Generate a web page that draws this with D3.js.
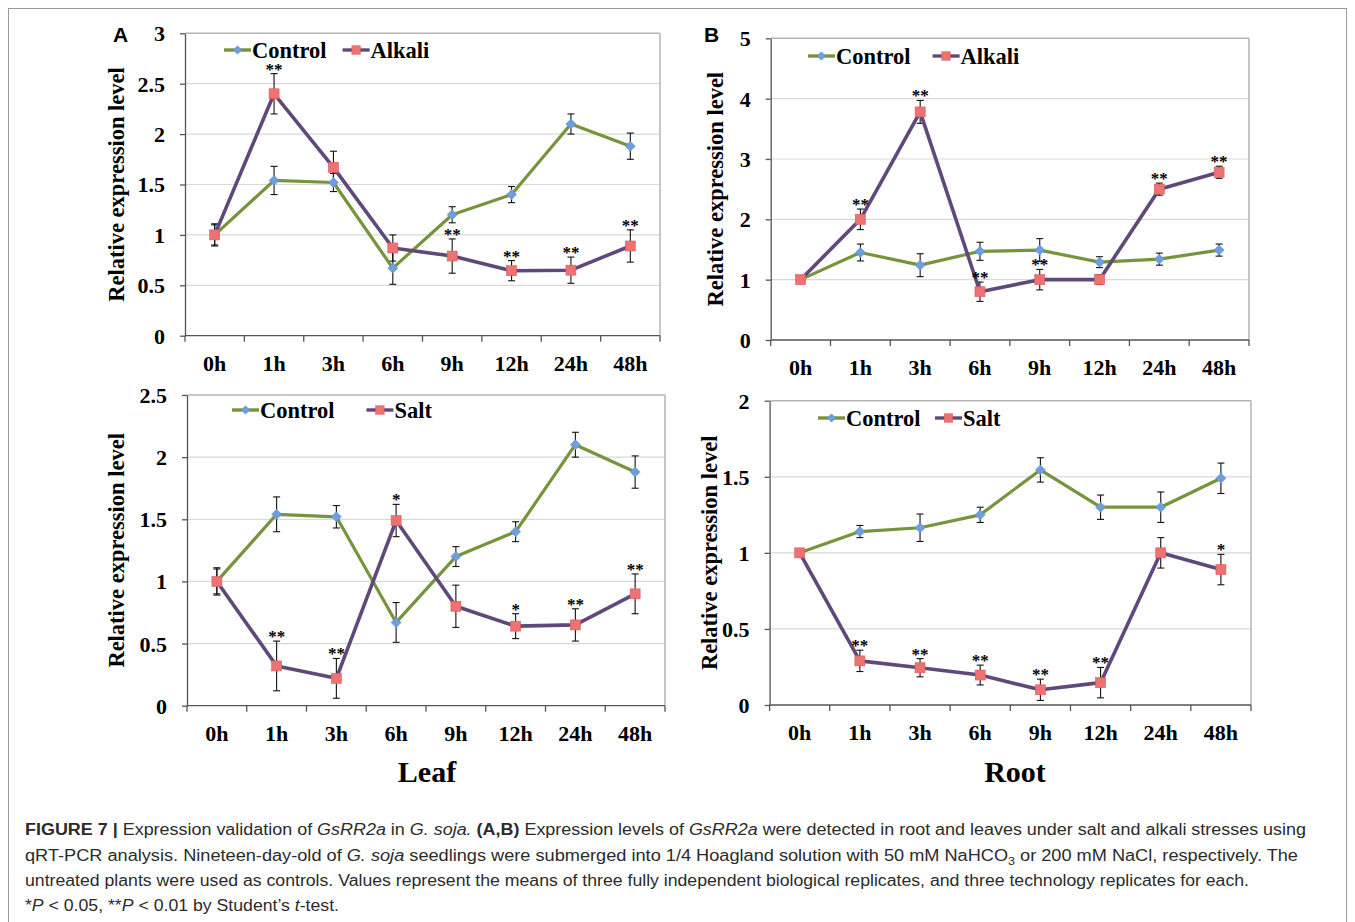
<!DOCTYPE html>
<html>
<head>
<meta charset="utf-8">
<script src="https://cdn.jsdelivr.net/npm/d3@7"></script>
<style>
  body { margin: 0; background: #fff; }
</style>
</head>
<body>
<div id="chart"></div>
<script>
// time points (x categories)
const hours = ["0h", "1h", "3h", "6h", "9h", "12h", "24h", "48h"];

// leaf - control (same controls used for alkali and salt)
const leafCtrl = [1.0, 1.54, 1.52, 0.67, 1.20, 1.40, 2.10, 1.88];
const leafCtrlErr = [0.11, 0.14, 0.09, 0.16, 0.08, 0.08, 0.10, 0.13];

// leaf - alkali (A)
const leafAlkali = [1.0, 2.40, 1.67, 0.87, 0.79, 0.645, 0.65, 0.89];
const leafAlkaliErr = [0.10, 0.20, 0.16, 0.13, 0.17, 0.10, 0.13, 0.16];
const leafAlkaliSig = ["", "**", "", "", "**", "**", "**", "**"];

// root - control / alkali (B)
const rootCtrlB = [1.0, 1.45, 1.24, 1.47, 1.49, 1.29, 1.34, 1.49];
const rootCtrlBErr = [0.04, 0.14, 0.19, 0.15, 0.19, 0.09, 0.10, 0.10];
const rootAlkali = [1.0, 2.0, 3.78, 0.80, 1.0, 1.0, 2.50, 2.78];
const rootAlkaliErr = [0.05, 0.17, 0.19, 0.16, 0.17, 0.08, 0.10, 0.10];
const rootAlkaliSig = ["", "**", "**", "**", "**", "", "**", "**"];

// leaf - salt (C)
const leafSalt = [1.0, 0.32, 0.22, 1.49, 0.80, 0.64, 0.65, 0.90];
const leafSaltErr = [0.10, 0.20, 0.16, 0.13, 0.17, 0.10, 0.13, 0.16];
const leafSaltSig = ["", "**", "**", "*", "", "*", "**", "**"];

// root - control / salt (D)
const rootCtrlD = [1.0, 1.14, 1.165, 1.25, 1.545, 1.30, 1.30, 1.49];
const rootCtrlDErr = [0.01, 0.04, 0.09, 0.05, 0.08, 0.08, 0.10, 0.10];
const rootSalt = [1.0, 0.29, 0.245, 0.197, 0.10, 0.147, 1.0, 0.89];
const rootSaltErr = [0.01, 0.07, 0.06, 0.065, 0.07, 0.10, 0.10, 0.10];
const rootSaltSig = ["", "**", "**", "**", "**", "**", "", "*"];

const W = 1355, H = 922;
const serif = '"Liberation Serif", "Times New Roman", serif';
const sans = '"Liberation Sans", Arial, sans-serif';
const green = '#77933c', purple = '#5f497a';
const blue = '#6e9fdc', red = '#ee7272';

const svg = d3.select('#chart').append('svg')
  .attr('width', W)
  .attr('height', H)
  .style('display', 'block');

// outer frame of the figure
svg.append('rect')
  .attr('x', 8.5).attr('y', 8.5)
  .attr('width', 1338).attr('height', 1000)
  .attr('fill', 'none')
  .attr('stroke', '#9a9a9a');

const panels = [
  { ctrl: leafCtrl, ctrlErr: leafCtrlErr, trt: leafAlkali, trtErr: leafAlkaliErr, sig: leafAlkaliSig,
    trtName: 'Alkali', ymax: 3, l: 185, r: 660, t: 33.3, b: 335.7,
    titleX: 117, legendY: 50, legendX: [224, 342.6], letter: 'A', letterX: 113 },
  { ctrl: rootCtrlB, ctrlErr: rootCtrlBErr, trt: rootAlkali, trtErr: rootAlkaliErr, sig: rootAlkaliSig,
    trtName: 'Alkali', ymax: 5, step: 1, l: 770.7, r: 1249, t: 38.3, b: 340,
    titleX: 716.5, legendY: 56, legendX: [808, 932.6], letter: 'B', letterX: 704 },
  { ctrl: leafCtrl, ctrlErr: leafCtrlErr, trt: leafSalt, trtErr: leafSaltErr, sig: leafSaltSig,
    trtName: 'Salt', ymax: 2.5, l: 187, r: 665, t: 395, b: 705.7,
    titleX: 117, legendY: 410, legendX: [232, 366.4], bottomTitle: 'Leaf', bottomX: 427 },
  { ctrl: rootCtrlD, ctrlErr: rootCtrlDErr, trt: rootSalt, trtErr: rootSaltErr, sig: rootSaltSig,
    trtName: 'Salt', ymax: 2, l: 769.6, r: 1251, t: 400.7, b: 705,
    titleX: 710.5, legendY: 418, legendX: [818, 935], bottomTitle: 'Root', bottomX: 1015 }
];

const diamond = 'M0,-5L5,0L0,5L-5,0Z';

function drawMarker(sel, kind) {
  if (kind === 'diamond') {
    sel.append('path').attr('d', diamond).attr('fill', blue).attr('stroke', '#5b8fd0').attr('stroke-width', 0.6);
  } else {
    sel.append('rect').attr('x', -5).attr('y', -5).attr('width', 10).attr('height', 10)
      .attr('fill', red).attr('stroke', '#d85d5d').attr('stroke-width', 0.6);
  }
}

function drawPanel(p) {
  const step = p.step || 0.5;
  const x = d3.scaleBand().domain(hours).range([p.l, p.r]);
  const y = d3.scaleLinear().domain([0, p.ymax]).range([p.b, p.t]);
  const ticks = d3.range(0, p.ymax + 1e-9, step);
  const bw = x.bandwidth();
  const cx = h => x(h) + bw / 2;
  const g = svg.append('g');

  // gridlines + top frame
  g.append('g').selectAll('line')
    .data(ticks.filter(d => d > 0))
    .join('line')
    .attr('x1', p.l).attr('x2', p.r)
    .attr('y1', d => y(d)).attr('y2', d => y(d))
    .attr('stroke', d => d === ticks[ticks.length - 1] ? '#b4b4b4' : '#d9d9d9')
    .attr('stroke-width', d => d === ticks[ticks.length - 1] ? 1.5 : 1.2);
  g.append('line')
    .attr('x1', p.r).attr('x2', p.r).attr('y1', p.t).attr('y2', p.b)
    .attr('stroke', '#b4b4b4').attr('stroke-width', 1.5);

  // y axis
  const yAxis = d3.axisLeft(y)
    .tickValues(ticks)
    .tickSize(5)
    .tickSizeOuter(0)
    .tickPadding(15)
    .tickFormat(d => String(+d.toFixed(1)));
  const ya = g.append('g').attr('transform', `translate(${p.l},0)`).call(yAxis);
  ya.select('.domain').attr('stroke', '#555').attr('stroke-width', 1.3);
  ya.selectAll('.tick line').attr('stroke', '#555').attr('stroke-width', 1.3);
  ya.selectAll('.tick text')
    .attr('font-family', serif).attr('font-weight', 'bold').attr('font-size', 22)
    .attr('fill', '#000').attr('dy', '0.34em');

  // x axis: line, ticks at band boundaries, labels at band centres
  g.append('line')
    .attr('x1', p.l).attr('x2', p.r).attr('y1', p.b).attr('y2', p.b)
    .attr('stroke', '#555').attr('stroke-width', 1.3);
  const bounds = hours.map(h => x(h)).concat([p.r]);
  g.append('g').selectAll('line')
    .data(bounds)
    .join('line')
    .attr('x1', d => d).attr('x2', d => d)
    .attr('y1', p.b).attr('y2', p.b + 6)
    .attr('stroke', '#555').attr('stroke-width', 1.3);
  g.append('g').selectAll('text')
    .data(hours)
    .join('text')
    .attr('x', d => cx(d))
    .attr('y', p.b + 35)
    .attr('text-anchor', 'middle')
    .attr('font-family', serif).attr('font-weight', 'bold').attr('font-size', 22)
    .text(d => d);

  // y axis title
  g.append('text')
    .attr('transform', `translate(${p.titleX},${(p.t + p.b) / 2}) rotate(-90)`)
    .attr('text-anchor', 'middle')
    .attr('dy', '0.3em')
    .attr('font-family', serif).attr('font-weight', 'bold').attr('font-size', 22.5)
    .text('Relative expression level');

  const series = [
    { vals: p.ctrl, err: p.ctrlErr, color: green, width: 3.2, marker: 'diamond' },
    { vals: p.trt, err: p.trtErr, color: purple, width: 3.6, marker: 'square' }
  ];

  // error bars
  series.forEach(s => {
    const eb = g.append('g').attr('stroke', '#111').attr('stroke-width', 1.1);
    hours.forEach((h, i) => {
      const x0 = cx(h), y1 = y(s.vals[i] + s.err[i]), y2 = y(s.vals[i] - s.err[i]);
      eb.append('line').attr('x1', x0).attr('x2', x0).attr('y1', y1).attr('y2', y2);
      eb.append('line').attr('x1', x0 - 3.5).attr('x2', x0 + 3.5).attr('y1', y1).attr('y2', y1);
      eb.append('line').attr('x1', x0 - 3.5).attr('x2', x0 + 3.5).attr('y1', y2).attr('y2', y2);
    });
  });

  // lines
  const line = d3.line().x((d, i) => cx(hours[i])).y(d => y(d));
  series.forEach(s => {
    g.append('path')
      .attr('d', line(s.vals))
      .attr('fill', 'none')
      .attr('stroke', s.color)
      .attr('stroke-width', s.width)
      .attr('stroke-linejoin', 'round');
  });

  // markers
  series.forEach(s => {
    g.append('g').selectAll('g')
      .data(s.vals)
      .join('g')
      .attr('transform', (d, i) => `translate(${cx(hours[i])},${y(d)})`)
      .each(function () { drawMarker(d3.select(this), s.marker); });
  });

  // significance stars
  g.append('g').selectAll('text')
    .data(hours.filter((h, i) => p.sig[i]))
    .join('text')
    .attr('x', h => cx(h))
    .attr('y', h => { const i = hours.indexOf(h); return y(p.trt[i] + p.trtErr[i]) + 1; })
    .attr('text-anchor', 'middle')
    .attr('font-family', serif).attr('font-weight', 'bold').attr('font-size', 17)
    .text(h => p.sig[hours.indexOf(h)]);

  // legend
  const legItems = [
    { name: 'Control', color: green, marker: 'diamond', lx: p.legendX[0] },
    { name: p.trtName, color: purple, marker: 'square', lx: p.legendX[1] }
  ];
  legItems.forEach(it => {
    const lg = g.append('g').attr('transform', `translate(${it.lx},${p.legendY})`);
    lg.append('line').attr('x1', 0).attr('x2', 27).attr('y1', 0).attr('y2', 0)
      .attr('stroke', it.color).attr('stroke-width', 3.4);
    drawMarker(lg.append('g').attr('transform', 'translate(13.5,0) scale(0.85)'), it.marker);
    lg.append('text').attr('x', 28).attr('y', 7.5)
      .attr('font-family', serif).attr('font-weight', 'bold').attr('font-size', 22.5)
      .text(it.name);
  });

  if (p.letter) {
    svg.append('text').attr('x', p.letterX).attr('y', 42)
      .attr('font-family', sans).attr('font-weight', 'bold').attr('font-size', 21)
      .text(p.letter);
  }
  if (p.bottomTitle) {
    svg.append('text').attr('x', p.bottomX).attr('y', 782)
      .attr('text-anchor', 'middle')
      .attr('font-family', serif).attr('font-weight', 'bold').attr('font-size', 30)
      .text(p.bottomTitle);
  }
}

panels.forEach(drawPanel);

// caption
const captionLines = [
  { y: 835, w: 1281, parts: [
    ['FIGURE 7 |', 'b'], [' Expression validation of '], ['GsRR2a', 'i'], [' in '], ['G. soja.', 'i'], [' '],
    ['(A,B)', 'b'], [' Expression levels of '], ['GsRR2a', 'i'],
    [' were detected in root and leaves under salt and alkali stresses using'] ] },
  { y: 861, w: 1273, parts: [
    ['qRT-PCR analysis. Nineteen-day-old of '], ['G. soja', 'i'],
    [' seedlings were submerged into 1/4 Hoagland solution with 50 mM NaHCO'], ['3', 'sub'],
    [' or 200 mM NaCl, respectively. The'] ] },
  { y: 886, w: 1224, parts: [
    ['untreated plants were used as controls. Values represent the means of three fully independent biological replicates, and three technology replicates for each.'] ] },
  { y: 911, w: 314, parts: [
    ['*'], ['P', 'i'], [' < 0.05, **'], ['P', 'i'], [' < 0.01 by Student\u2019s '], ['t', 'i'], ['-test.'] ] }
];

captionLines.forEach(cl => {
  const t = svg.append('text')
    .attr('x', 25).attr('y', cl.y)
    .attr('font-family', sans).attr('font-size', 16).attr('fill', '#2b2b2b')
    .attr('textLength', cl.w).attr('lengthAdjust', 'spacingAndGlyphs');
  let shifted = false;
  cl.parts.forEach(([txt, st]) => {
    const ts = t.append('tspan').text(txt);
    if (st === 'b') ts.attr('font-weight', 'bold');
    if (st === 'i') ts.attr('font-style', 'italic');
    if (st === 'sub') { ts.attr('font-size', 11).attr('dy', 4); shifted = true; }
    else if (shifted) { ts.attr('dy', -4); shifted = false; }
  });
});
</script>
</body>
</html>
